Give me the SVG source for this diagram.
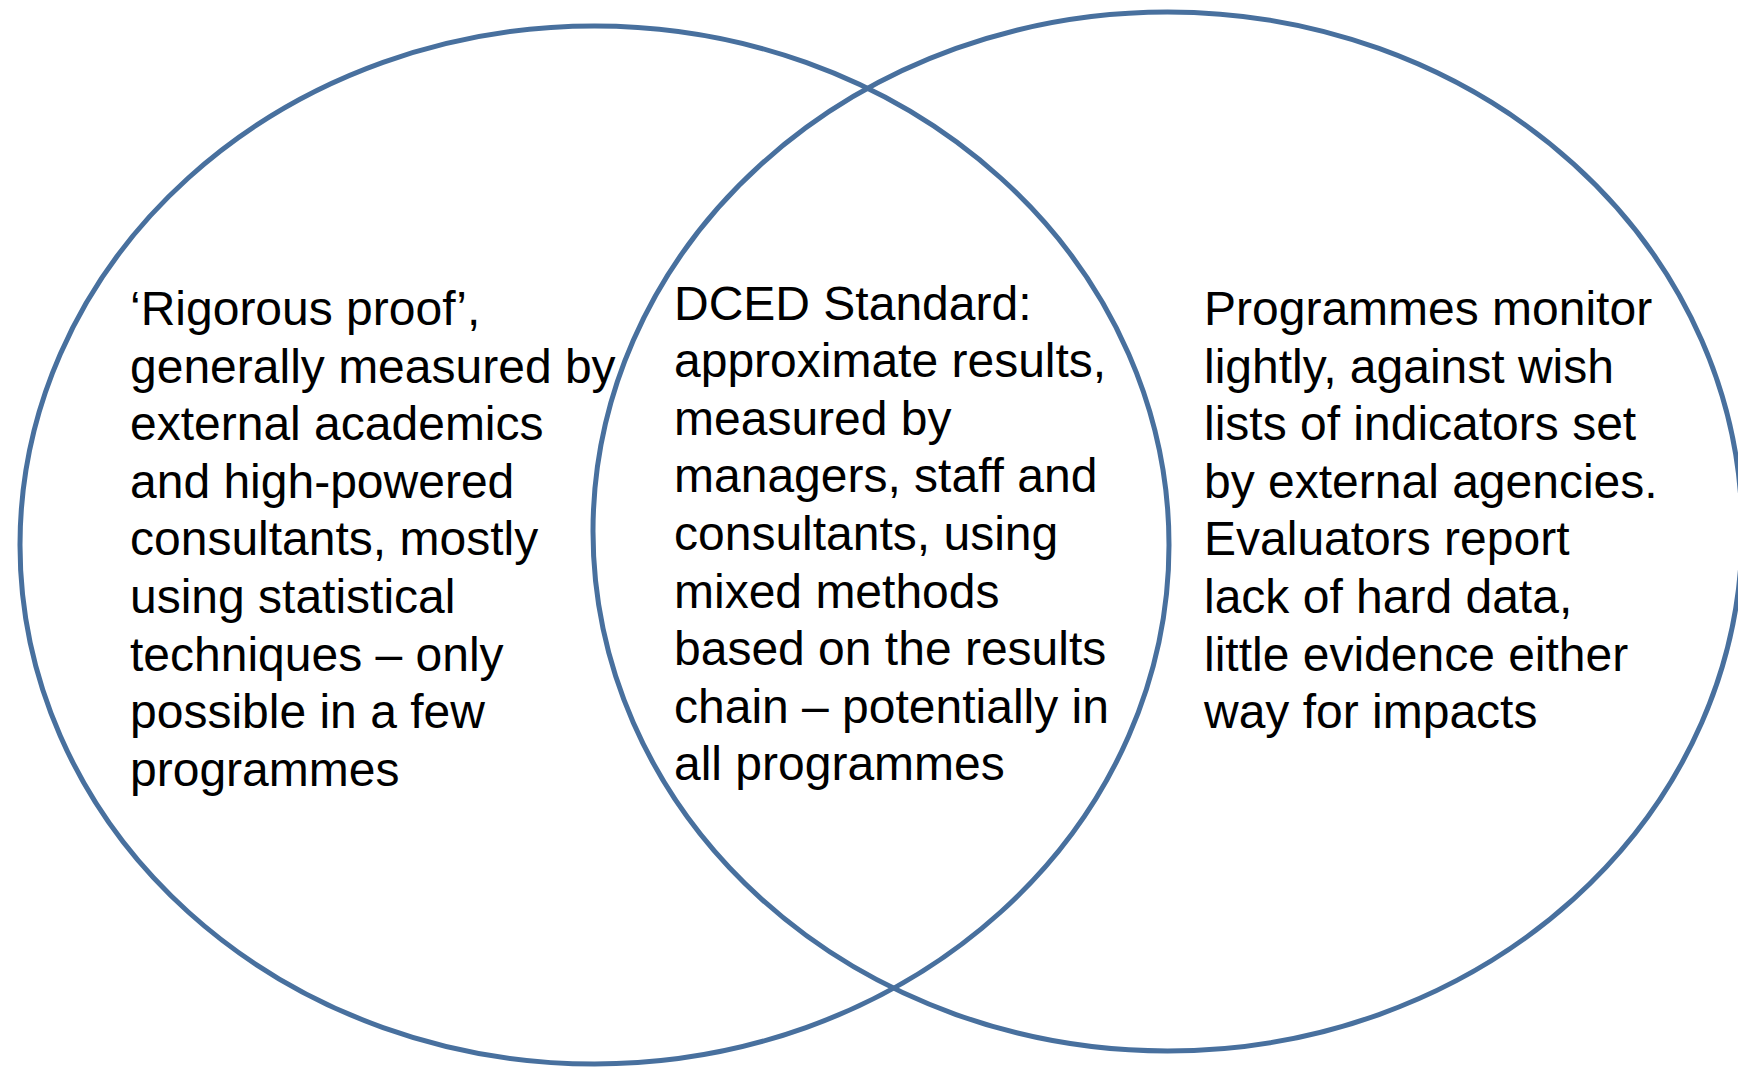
<svg xmlns="http://www.w3.org/2000/svg" width="1738" height="1068" viewBox="0 0 1738 1068">
<style>
.ring{fill:none;stroke:#48709E;stroke-width:5}
.t{font-family:"Liberation Sans",Arial,sans-serif;font-size:48px;fill:#000}
</style>
<rect width="1738" height="1068" fill="#fff"/>
<g id="left-circle">
<ellipse class="ring" cx="594.5" cy="545" rx="574.5" ry="519"/>
<text class="t" x="130" y="325">
<tspan x="130" y="325">‘Rigorous proof’,</tspan>
<tspan x="130" dy="57.6">generally measured by</tspan>
<tspan x="130" dy="57.6">external academics</tspan>
<tspan x="130" dy="57.6">and high-powered</tspan>
<tspan x="130" dy="57.6">consultants, mostly</tspan>
<tspan x="130" dy="57.6">using statistical</tspan>
<tspan x="130" dy="57.6">techniques – only</tspan>
<tspan x="130" dy="57.6">possible in a few</tspan>
<tspan x="130" dy="57.6">programmes</tspan>
</text>
</g>
<g id="right-circle">
<ellipse class="ring" cx="1167.5" cy="531.5" rx="574.5" ry="519.5"/>
<text class="t" x="1204" y="325">
<tspan x="1204" y="325">Programmes monitor</tspan>
<tspan x="1204" dy="57.6">lightly, against wish</tspan>
<tspan x="1204" dy="57.6">lists of indicators set</tspan>
<tspan x="1204" dy="57.6">by external agencies.</tspan>
<tspan x="1204" dy="57.6">Evaluators report</tspan>
<tspan x="1204" dy="57.6">lack of hard data,</tspan>
<tspan x="1204" dy="57.6">little evidence either</tspan>
<tspan x="1204" dy="57.6">way for impacts</tspan>
</text>
</g>
<g id="overlap">
<text class="t" x="674" y="319.5">
<tspan x="674" y="319.5">DCED Standard:</tspan>
<tspan x="674" dy="57.6">approximate results,</tspan>
<tspan x="674" dy="57.6">measured by</tspan>
<tspan x="674" dy="57.6">managers, staff and</tspan>
<tspan x="674" dy="57.6">consultants, using</tspan>
<tspan x="674" dy="57.6">mixed methods</tspan>
<tspan x="674" dy="57.6">based on the results</tspan>
<tspan x="674" dy="57.6">chain – potentially in</tspan>
<tspan x="674" dy="57.6">all programmes</tspan>
</text>
</g>
<g id="connectors"/>
</svg>
